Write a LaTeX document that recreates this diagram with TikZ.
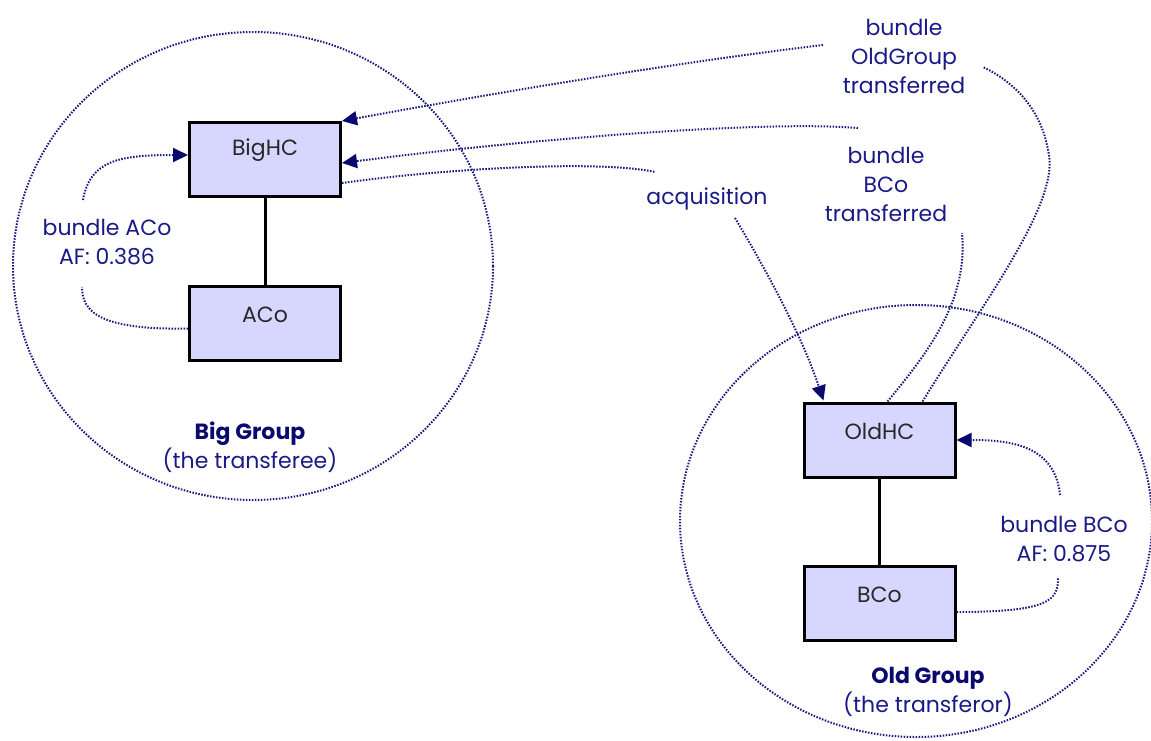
\documentclass[tikz,border=0pt]{standalone}
\usepackage{fontspec}
\setmainfont{Poppins}
\usetikzlibrary{arrows.meta,calc}
\definecolor{navy}{RGB}{26,26,135}
\definecolor{navydark}{RGB}{10,10,110}
\definecolor{dotcol}{RGB}{25,25,125}
\definecolor{tipcol}{RGB}{10,10,110}
\definecolor{boxfill}{RGB}{214,214,255}
\definecolor{boxtext}{RGB}{40,40,40}
\begin{document}
\begin{tikzpicture}[x=1pt,y=-1pt,
  lbl/.style={text=navy, font=\fontsize{22}{29}\selectfont, align=center, inner sep=0pt},
  grp/.style={text=navy, font=\fontsize{22}{29}\selectfont, align=center, inner sep=0pt},
  ent/.style={draw=black, line width=3pt, fill=boxfill, text=boxtext,
    font=\fontsize{22}{24}\selectfont, minimum width=151pt, minimum height=74pt, inner sep=0pt},
  dotline/.style={draw=dotcol, line width=2pt, dash pattern=on 1.5pt off 1.5pt},
  tip/.style={-{Triangle[length=15pt,width=14pt,fill=tipcol,color=tipcol]}},
  tie/.style={draw=black, line width=3pt}
]
\useasboundingbox (0,0) rectangle (1151,740);

% group outlines
\draw[dotline] (253,266) ellipse [x radius=240, y radius=234];
\draw[dotline] (916,521) ellipse [x radius=236, y radius=216];

% entities
\node[ent] (BigHC) at (265,159.5) {\raisebox{9pt}[\height][\depth]{BigHC}};
\node[ent] (ACo)   at (265,323.5) {\raisebox{9pt}[\height][\depth]{ACo}};
\node[ent] (OldHC) at (879.5,440) {\raisebox{9pt}[\height][\depth]{OldHC}};
\node[ent] (BCo)   at (879.5,603.5) {\raisebox{9pt}[\height][\depth]{BCo}};

\draw[tie] (BigHC) -- (ACo);
\draw[tie, line width=2.5pt] (OldHC) -- (BCo);

% labels
\node[lbl] (lblOG)  at (904,56)  {bundle\\OldGroup\\transferred};
\node[lbl] (lblBT)  at (886,184) {bundle\\BCo\\transferred};
\node[lbl] (lblAcq) at (707,199) {acquisition};
\node[lbl] (lblAAF) at (107,242) {bundle ACo\\AF: 0.386};
\node[lbl] (lblBAF) at (1064,539) {bundle BCo\\AF: 0.875};
\node[grp] (lblBig) at (250,447) {{\color{navydark}\textbf{Big Group}}\\(the transferee)};
\node[grp] (lblOld) at (928,692) {{\color{navydark}\textbf{Old Group}}\\(the transferor)};

% free ends near labels
\coordinate (ogL) at (823,45);
\coordinate (ogR) at (983,67);
\coordinate (btL) at (858,128);
\coordinate (btB) at (962,233);
\coordinate (acL) at (655,172);
\coordinate (acB) at (735,218);
\coordinate (aaT) at (83,200);
\coordinate (aaB) at (82,287);
\coordinate (baT) at (1060,495);
\coordinate (baB) at (1058,578);

% bundle OldGroup transferred
\draw[dotline] ($(OldHC.north)+(43,0)$) .. controls (985,300) and (1062,200) .. (1048,150)
  .. controls (1040,105) and (1010,80) .. (ogR);
\draw[dotline,tip] (ogL) .. controls (680,62) and (500,92) .. (BigHC.north east);

% bundle BCo transferred
\draw[dotline] ($(OldHC.north)+(8,0)$) .. controls (930,350) and (968,300) .. (btB);
\draw[dotline,tip] (btL) .. controls (760,120) and (520,140) .. ($(BigHC.east)+(0,3.5)$);

% acquisition
\draw[dotline] ($(BigHC.east)+(0,23.5)$) .. controls (450,168) and (600,160) .. (acL);
\draw[dotline,tip] (acB) .. controls (760,260) and (800,330) .. ($(OldHC.north west)+(21,-1)$);

% bundle ACo
\draw[dotline] ($(ACo.west)+(0,5)$) .. controls (100,330) and (82,312) .. (aaB);
\draw[dotline,tip] (aaT) .. controls (90,160) and (120,155) .. ($(BigHC.west)+(0,-4.5)$);

% bundle BCo
\draw[dotline] ($(BCo.east)+(0,8.5)$) .. controls (1050,612) and (1058,600) .. (baB);
\draw[dotline,tip] (baT) .. controls (1055,445) and (1010,440) .. (OldHC.east);
\end{tikzpicture}
\end{document}
